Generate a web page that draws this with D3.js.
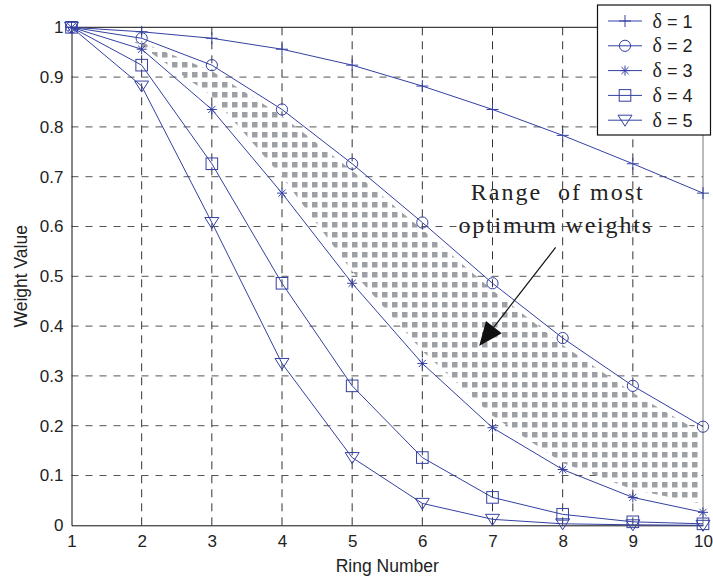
<!DOCTYPE html>
<html>
<head>
<meta charset="utf-8">
<script src="https://cdn.jsdelivr.net/npm/d3@7"></script>
<style>
  body { margin: 0; background: #fff; }
  text { font-family: "Liberation Sans", Arial, sans-serif; fill: #222; }
</style>
</head>
<body>
<svg id="chart" width="713" height="579"></svg>
<script>
// ring numbers and weights per delta
const rings = [1, 2, 3, 4, 5, 6, 7, 8, 9, 10];
const deltaLabels = ["1", "2", "3", "4", "5"];
const w1 = [1, 0.991, 0.978, 0.956, 0.924, 0.882, 0.835, 0.783, 0.726, 0.667];
const w2 = [1, 0.978, 0.924, 0.835, 0.726, 0.608, 0.486, 0.376, 0.280, 0.198];
const w3 = [1, 0.956, 0.835, 0.667, 0.486, 0.325, 0.196, 0.112, 0.056, 0.026];
const w4 = [1, 0.924, 0.726, 0.486, 0.280, 0.136, 0.056, 0.022, 0.007, 0.003];
const w5 = [1, 0.882, 0.608, 0.325, 0.136, 0.044, 0.012, 0.003, 0.001, 0.000];
const markers = ["plus", "circle", "star", "square", "triangle"];

// shaded band ("range of most optimum weights")
const shadeX = [1.8, 2, 3, 4, 5, 6, 7, 8, 9, 9.93];
const shadeTop = [0.978, 0.970, 0.912, 0.822, 0.712, 0.594, 0.472, 0.362, 0.266, 0.19];
const shadeBottom = [0.978, 0.962, 0.862, 0.700, 0.510, 0.350, 0.220, 0.125, 0.072, 0.045];

const xTicks = [1, 2, 3, 4, 5, 6, 7, 8, 9, 10];
const yTicks = [0, 0.1, 0.2, 0.3, 0.4, 0.5, 0.6, 0.7, 0.8, 0.9, 1];

const blue = "#3440a2";
const series = [w1, w2, w3, w4, w5];

const svg = d3.select("#chart");
const margin = { left: 71.5, right: 10, top: 27.3, bottom: 53.7 };
const width = 713 - margin.left - margin.right,
      height = 579 - margin.top - margin.bottom;

const x = d3.scaleLinear().domain([1, 10]).range([margin.left, margin.left + width]);
const y = d3.scaleLinear().domain([0, 1]).range([margin.top + height, margin.top]);

// dotted fill pattern
const pitch = 10;
const pat = svg.append("defs").append("pattern")
    .attr("id", "dots")
    .attr("patternUnits", "userSpaceOnUse")
    .attr("width", pitch).attr("height", pitch);
pat.append("rect").attr("width", pitch).attr("height", pitch).attr("fill", "#fff");
pat.append("rect").attr("x", 2).attr("y", 2).attr("width", 5.5).attr("height", 5.5).attr("fill", "#9da1a6");

// grid
const grid = svg.append("g");
grid.selectAll(".vgrid")
    .data(xTicks.slice(1, -1))
    .enter().append("line")
    .attr("x1", d => x(d)).attr("x2", d => x(d))
    .attr("y1", y(0)).attr("y2", y(1))
    .attr("stroke", "#333").attr("stroke-dasharray", "8,6");
grid.selectAll(".hgrid")
    .data(yTicks.slice(1, -1))
    .enter().append("line")
    .attr("x1", x(1)).attr("x2", x(10))
    .attr("y1", d => y(d)).attr("y2", d => y(d))
    .attr("stroke", "#555").attr("stroke-dasharray", "7,7");

// shaded band
const bandPts = shadeX.map((d, i) => [x(d), y(shadeTop[i])])
    .concat(shadeX.map((d, i) => [x(d), y(shadeBottom[i])]).reverse());
svg.append("path")
    .attr("d", d3.line()(bandPts) + "Z")
    .attr("fill", "url(#dots)");

// box
svg.append("line").attr("x1", x(1)).attr("x2", x(10)).attr("y1", y(1)).attr("y2", y(1)).attr("stroke", "#111");
svg.append("line").attr("x1", x(10)).attr("x2", x(10)).attr("y1", y(0)).attr("y2", y(1)).attr("stroke", "#777");

// axes
const xAxis = d3.axisBottom(x).tickValues(xTicks).tickSize(0).tickPadding(10).tickFormat(d3.format("d"));
const yAxis = d3.axisLeft(y).tickValues(yTicks).tickSize(0).tickPadding(8).tickFormat(d => d3.format("")(+d.toFixed(1)));
svg.append("g").attr("transform", `translate(0,${y(0)})`).call(xAxis)
    .call(g => g.select(".domain").attr("stroke", "#111"))
    .selectAll("text").attr("font-size", 17).attr("font-family", "Liberation Sans, Arial, sans-serif").attr("fill", "#222");
svg.append("g").attr("transform", `translate(${x(1)},0)`).call(yAxis)
    .call(g => g.select(".domain").attr("stroke", "#111"))
    .selectAll("text").attr("font-size", 17).attr("font-family", "Liberation Sans, Arial, sans-serif").attr("fill", "#222");

svg.append("text")
    .attr("x", (x(1) + x(10)) / 2).attr("y", 572)
    .attr("text-anchor", "middle").attr("font-size", 17.5)
    .text("Ring Number");
svg.append("text")
    .attr("transform", `translate(27,${(y(0) + y(1)) / 2}) rotate(-90)`)
    .attr("text-anchor", "middle").attr("font-size", 17.5)
    .text("Weight Value");

// marker drawing
function drawMarker(g, type) {
    const s = g.append("g");
    if (type === "plus") {
        s.append("path").attr("d", "M-6,0H6M0,-6V6");
    } else if (type === "circle") {
        s.append("circle").attr("r", 5.6).attr("fill", "none");
    } else if (type === "star") {
        s.append("path").attr("d", "M-5,0H5M0,-5V5M-3.6,-3.6L3.6,3.6M-3.6,3.6L3.6,-3.6");
    } else if (type === "square") {
        s.append("rect").attr("x", -5.8).attr("y", -5.8).attr("width", 11.6).attr("height", 11.6).attr("fill", "none");
    } else if (type === "triangle") {
        s.append("path").attr("d", "M-7,-5H7L0,6Z").attr("fill", "none");
    }
    s.attr("stroke", blue).attr("stroke-width", 1).attr("fill", "none");
}

// lines and markers
const line = d3.line().x((d, i) => x(rings[i])).y(d => y(d));
series.forEach((vals, k) => {
    svg.append("path")
        .attr("d", line(vals))
        .attr("fill", "none").attr("stroke", blue).attr("stroke-width", 1);
    vals.forEach((v, i) => {
        const g = svg.append("g").attr("transform", `translate(${x(rings[i])},${y(v)})`);
        drawMarker(g, markers[k]);
    });
});

// annotation
const note = svg.append("g").style("white-space", "pre");
note.append("text")
    .attr("x", x(7.93)).attr("y", y(0.653))
    .attr("text-anchor", "middle").attr("font-size", 24).attr("letter-spacing", 2)
    .style("font-family", "Liberation Serif, serif").style("white-space", "pre")
    .text("Range  of most");
note.append("text")
    .attr("x", x(7.90)).attr("y", y(0.587))
    .attr("text-anchor", "middle").attr("font-size", 24).attr("letter-spacing", 1.8)
    .style("font-family", "Liberation Serif, serif")
    .text("optimum weights");

const arrowFrom = [7.90, 0.558], arrowTo = [6.81, 0.36];
const ax0 = x(arrowFrom[0]), ay0 = y(arrowFrom[1]), ax1 = x(arrowTo[0]), ay1 = y(arrowTo[1]);
const ang = Math.atan2(ay1 - ay0, ax1 - ax0);
const headLen = 24, headW = 10;
const bx = ax1 - headLen * Math.cos(ang), by = ay1 - headLen * Math.sin(ang);
svg.append("line").attr("x1", ax0).attr("y1", ay0).attr("x2", bx).attr("y2", by).attr("stroke", "#111").attr("stroke-width", 1.2);
svg.append("path")
    .attr("d", d3.line()([
        [ax1, ay1],
        [bx + headW * Math.sin(ang), by - headW * Math.cos(ang)],
        [bx - headW * Math.sin(ang), by + headW * Math.cos(ang)]
    ]) + "Z")
    .attr("fill", "#111");

// legend
const legend = svg.append("g").attr("transform", "translate(597.5,5)");
legend.append("rect").attr("width", 113).attr("height", 130)
    .attr("fill", "#fff").attr("stroke", "#111").attr("stroke-width", 1.2);
deltaLabels.forEach((lab, k) => {
    const row = legend.append("g").attr("transform", `translate(0,${16 + k * 24.8})`);
    row.append("line").attr("x1", 10.5).attr("x2", 44.5).attr("stroke", blue);
    drawMarker(row.append("g").attr("transform", "translate(27.5,0)"), markers[k]);
    const t = row.append("text").attr("x", 55).attr("y", 6.5).attr("font-size", 18);
    t.append("tspan").style("font-family", "Liberation Serif, serif").attr("font-size", 20).text("δ");
    t.append("tspan").text(" = " + lab);
});
</script>
</body>
</html>
